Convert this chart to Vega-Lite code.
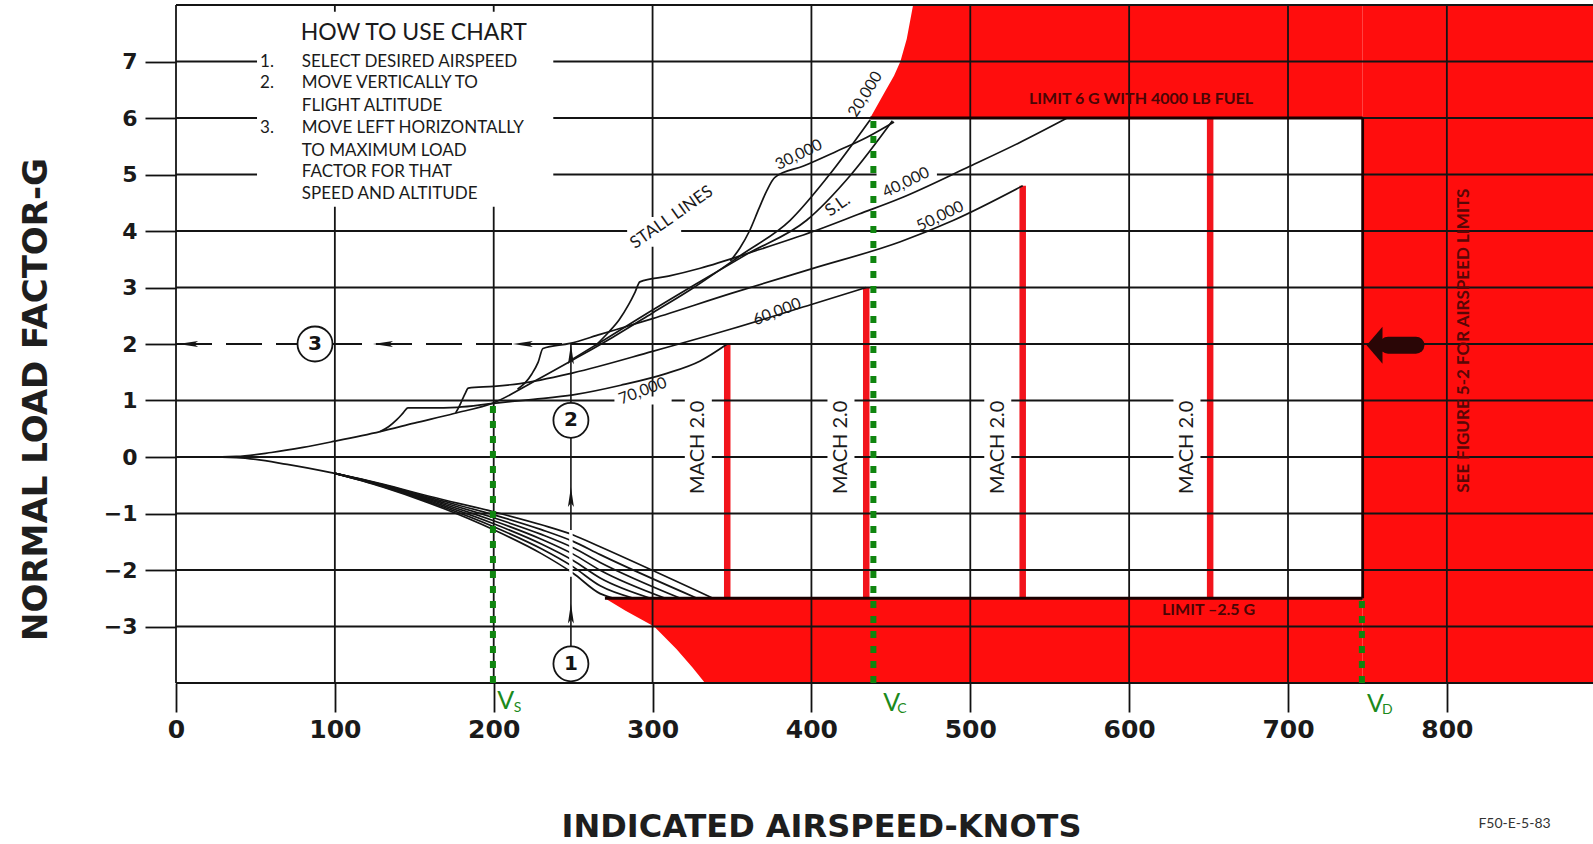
{
  "$schema": "https://vega.github.io/schema/vega-lite/v6.json",
  "width": 1417,
  "height": 678,
  "autosize": {"type": "none"},
  "padding": {"left": 176, "top": 5, "right": 0, "bottom": 161},
  "background": "#ffffff",
  "config": {"view": {"stroke": null}, "axis": {"labelFlush": false, "labelOverlap": false}},
  "datasets": {
    "grid": [
      {"x": 0, "x2": 892, "y": -4, "y2": -4},
      {"x": 0, "x2": 892, "y": -3, "y2": -3},
      {"x": 0, "x2": 892, "y": -2, "y2": -2},
      {"x": 0, "x2": 892, "y": -1, "y2": -1},
      {"x": 0, "x2": 892, "y": 0, "y2": 0},
      {"x": 0, "x2": 892, "y": 1, "y2": 1},
      {"x": 248.6, "x2": 892, "y": 2, "y2": 2},
      {"x": 0, "x2": 892, "y": 3, "y2": 3},
      {"x": 0, "x2": 892, "y": 4, "y2": 4},
      {"x": 0, "x2": 892, "y": 5, "y2": 5},
      {"x": 0, "x2": 892, "y": 6, "y2": 6},
      {"x": 0, "x2": 892, "y": 7, "y2": 7},
      {"x": 0, "x2": 892, "y": 8, "y2": 8},
      {"x": 0, "x2": 0, "y": -4, "y2": 8},
      {"x": 100, "x2": 100, "y": -4, "y2": 8},
      {"x": 200, "x2": 200, "y": -4, "y2": 8},
      {"x": 300, "x2": 300, "y": -4, "y2": 8},
      {"x": 400, "x2": 400, "y": -4, "y2": 8},
      {"x": 500, "x2": 500, "y": -4, "y2": 8},
      {"x": 600, "x2": 600, "y": -4, "y2": 8},
      {"x": 700, "x2": 700, "y": -4, "y2": 8},
      {"x": 800, "x2": 800, "y": -4, "y2": 8}
    ],
    "patches": [
      {"x": 51, "x2": 237.5, "y": 4.43, "y2": 7.88},
      {"x": 284, "x2": 318, "y": 3.72, "y2": 4.25},
      {"x": 276, "x2": 312, "y": 0.93, "y2": 1.07},
      {"x": 441, "x2": 479, "y": 4.93, "y2": 5.07},
      {"x": 320.3, "x2": 337.3, "y": -0.7, "y2": 1.06},
      {"x": 410.1, "x2": 427.1, "y": -0.7, "y2": 1.06},
      {"x": 508.8, "x2": 525.8, "y": -0.7, "y2": 1.06},
      {"x": 627.9, "x2": 644.9, "y": -0.7, "y2": 1.06}
    ],
    "patch2": [
      {"x": 247.5, "x2": 249.7, "y": -2.12, "y2": -1.29}
    ],
    "redU": [
      {"x": 437, "y": 6, "y2": 6},
      {"x": 446, "y": 6, "y2": 6.45},
      {"x": 452, "y": 6, "y2": 6.75},
      {"x": 456, "y": 6, "y2": 7.0},
      {"x": 460, "y": 6, "y2": 7.4},
      {"x": 464, "y": 6, "y2": 8},
      {"x": 747, "y": 6, "y2": 8}
    ],
    "redL": [
      {"x": 270, "y": -2.5, "y2": -2.5},
      {"x": 283, "y": -2.72, "y2": -2.5},
      {"x": 301, "y": -3.0, "y2": -2.5},
      {"x": 315, "y": -3.4, "y2": -2.5},
      {"x": 325, "y": -3.72, "y2": -2.5},
      {"x": 333, "y": -4, "y2": -2.5},
      {"x": 747, "y": -4, "y2": -2.5}
    ],
    "redR": [
      {"x": 747, "x2": 892, "y": -4, "y2": 8}
    ],
    "mach": [
      {"x": 347, "y": -2.5, "y2": 2.0},
      {"x": 434.5, "y": -2.5, "y2": 3.0},
      {"x": 533, "y": -2.5, "y2": 4.8},
      {"x": 651, "y": -2.5, "y2": 6.0}
    ],
    "green": [
      {"x": 199.5, "y": -4, "y2": 1.0},
      {"x": 439, "y": -4, "y2": 5.95},
      {"x": 746.5, "y": -4, "y2": -2.5}
    ],
    "outline": [
      {"x": 437, "x2": 747, "y": 6, "y2": 6},
      {"x": 747, "x2": 747, "y": -2.5, "y2": 6},
      {"x": 270, "x2": 747, "y": -2.5, "y2": -2.5}
    ],
    "curves": [
      {"id": "t", "i": 0, "x": 0, "y": 0},
      {"id": "t", "i": 1, "x": 20, "y": 0},
      {"id": "t", "i": 2, "x": 38, "y": 0.01},
      {"id": "t", "i": 3, "x": 60, "y": 0.08},
      {"id": "t", "i": 4, "x": 80, "y": 0.17},
      {"id": "t", "i": 5, "x": 100, "y": 0.28},
      {"id": "t", "i": 6, "x": 128.5, "y": 0.45},
      {"id": "t", "i": 7, "x": 150, "y": 0.6},
      {"id": "t", "i": 8, "x": 175, "y": 0.77},
      {"id": "t", "i": 9, "x": 200, "y": 0.96},
      {"id": "t", "i": 10, "x": 225, "y": 1.33},
      {"id": "t", "i": 11, "x": 250, "y": 1.72},
      {"id": "t", "i": 12, "x": 275, "y": 2.12},
      {"id": "t", "i": 13, "x": 300, "y": 2.55},
      {"id": "t", "i": 14, "x": 326, "y": 3.0},
      {"id": "t", "i": 15, "x": 356, "y": 3.58},
      {"id": "t", "i": 16, "x": 386.6, "y": 4.19},
      {"id": "t", "i": 17, "x": 410, "y": 4.95},
      {"id": "t", "i": 18, "x": 437, "y": 5.97},
      {"id": "sl", "i": 0, "x": 250, "y": 1.74},
      {"id": "sl", "i": 1, "x": 270, "y": 2.08},
      {"id": "sl", "i": 2, "x": 290, "y": 2.43},
      {"id": "sl", "i": 3, "x": 326, "y": 3.04},
      {"id": "sl", "i": 4, "x": 360, "y": 3.6},
      {"id": "sl", "i": 5, "x": 397, "y": 4.19},
      {"id": "sl", "i": 6, "x": 425, "y": 5.0},
      {"id": "sl", "i": 7, "x": 451, "y": 5.95},
      {"id": "a30", "i": 0, "x": 349, "y": 3.47},
      {"id": "a30", "i": 1, "x": 355, "y": 3.7},
      {"id": "a30", "i": 2, "x": 361, "y": 4.0},
      {"id": "a30", "i": 3, "x": 367, "y": 4.4},
      {"id": "a30", "i": 4, "x": 372, "y": 4.72},
      {"id": "a30", "i": 5, "x": 377, "y": 4.95},
      {"id": "a30", "i": 6, "x": 395, "y": 5.15},
      {"id": "a30", "i": 7, "x": 415, "y": 5.4},
      {"id": "a30", "i": 8, "x": 435, "y": 5.66},
      {"id": "a30", "i": 9, "x": 452, "y": 5.93},
      {"id": "a40", "i": 0, "x": 264, "y": 1.97},
      {"id": "a40", "i": 1, "x": 272, "y": 2.2},
      {"id": "a40", "i": 2, "x": 279, "y": 2.43},
      {"id": "a40", "i": 3, "x": 285, "y": 2.7},
      {"id": "a40", "i": 4, "x": 289, "y": 2.92},
      {"id": "a40", "i": 5, "x": 292, "y": 3.1},
      {"id": "a40", "i": 6, "x": 310, "y": 3.2},
      {"id": "a40", "i": 7, "x": 330, "y": 3.34},
      {"id": "a40", "i": 8, "x": 365, "y": 3.65},
      {"id": "a40", "i": 9, "x": 401, "y": 3.99},
      {"id": "a40", "i": 10, "x": 430, "y": 4.3},
      {"id": "a40", "i": 11, "x": 456, "y": 4.58},
      {"id": "a40", "i": 12, "x": 500, "y": 5.15},
      {"id": "a40", "i": 13, "x": 530, "y": 5.55},
      {"id": "a40", "i": 14, "x": 561, "y": 6.0},
      {"id": "a50", "i": 0, "x": 215, "y": 1.2},
      {"id": "a50", "i": 1, "x": 220, "y": 1.32},
      {"id": "a50", "i": 2, "x": 224, "y": 1.47},
      {"id": "a50", "i": 3, "x": 228, "y": 1.68},
      {"id": "a50", "i": 4, "x": 231, "y": 1.92},
      {"id": "a50", "i": 5, "x": 248, "y": 2.01},
      {"id": "a50", "i": 6, "x": 267, "y": 2.17},
      {"id": "a50", "i": 7, "x": 300, "y": 2.45},
      {"id": "a50", "i": 8, "x": 350, "y": 2.9},
      {"id": "a50", "i": 9, "x": 400, "y": 3.33},
      {"id": "a50", "i": 10, "x": 456, "y": 3.81},
      {"id": "a50", "i": 11, "x": 489.5, "y": 4.19},
      {"id": "a50", "i": 12, "x": 533, "y": 4.8},
      {"id": "a60", "i": 0, "x": 176, "y": 0.78},
      {"id": "a60", "i": 1, "x": 178, "y": 0.88},
      {"id": "a60", "i": 2, "x": 180, "y": 1.0},
      {"id": "a60", "i": 3, "x": 182, "y": 1.12},
      {"id": "a60", "i": 4, "x": 184, "y": 1.22},
      {"id": "a60", "i": 5, "x": 200, "y": 1.25},
      {"id": "a60", "i": 6, "x": 216.6, "y": 1.3},
      {"id": "a60", "i": 7, "x": 250, "y": 1.49},
      {"id": "a60", "i": 8, "x": 300, "y": 1.87},
      {"id": "a60", "i": 9, "x": 350, "y": 2.27},
      {"id": "a60", "i": 10, "x": 400, "y": 2.7},
      {"id": "a60", "i": 11, "x": 434.5, "y": 3.0},
      {"id": "a70", "i": 0, "x": 128.5, "y": 0.45},
      {"id": "a70", "i": 1, "x": 134, "y": 0.54},
      {"id": "a70", "i": 2, "x": 139, "y": 0.66},
      {"id": "a70", "i": 3, "x": 143, "y": 0.78},
      {"id": "a70", "i": 4, "x": 146, "y": 0.87},
      {"id": "a70", "i": 5, "x": 160, "y": 0.87},
      {"id": "a70", "i": 6, "x": 177, "y": 0.88},
      {"id": "a70", "i": 7, "x": 200, "y": 0.95},
      {"id": "a70", "i": 8, "x": 225, "y": 1.02},
      {"id": "a70", "i": 9, "x": 250, "y": 1.1},
      {"id": "a70", "i": 10, "x": 280, "y": 1.27},
      {"id": "a70", "i": 11, "x": 309, "y": 1.48},
      {"id": "a70", "i": 12, "x": 330, "y": 1.7},
      {"id": "a70", "i": 13, "x": 347, "y": 2.0},
      {"id": "b0", "i": 0, "x": 0, "y": 0},
      {"id": "b0", "i": 1, "x": 20, "y": 0},
      {"id": "b0", "i": 2, "x": 38, "y": -0.01},
      {"id": "b0", "i": 3, "x": 70, "y": -0.13},
      {"id": "b0", "i": 4, "x": 100, "y": -0.29},
      {"id": "b0", "i": 5, "x": 130, "y": -0.48},
      {"id": "b0", "i": 6, "x": 160, "y": -0.7},
      {"id": "b0", "i": 7, "x": 200, "y": -0.97},
      {"id": "b0", "i": 8, "x": 230, "y": -1.2},
      {"id": "b0", "i": 9, "x": 250, "y": -1.38},
      {"id": "b0", "i": 10, "x": 267, "y": -1.59},
      {"id": "b0", "i": 11, "x": 338, "y": -2.5},
      {"id": "b1", "i": 0, "x": 100, "y": -0.29},
      {"id": "b1", "i": 1, "x": 130, "y": -0.488},
      {"id": "b1", "i": 2, "x": 160, "y": -0.72},
      {"id": "b1", "i": 3, "x": 200, "y": -1.023},
      {"id": "b1", "i": 4, "x": 230, "y": -1.285},
      {"id": "b1", "i": 5, "x": 250, "y": -1.493},
      {"id": "b1", "i": 6, "x": 267, "y": -1.728},
      {"id": "b1", "i": 7, "x": 328, "y": -2.5},
      {"id": "b2", "i": 0, "x": 100, "y": -0.29},
      {"id": "b2", "i": 1, "x": 130, "y": -0.496},
      {"id": "b2", "i": 2, "x": 160, "y": -0.74},
      {"id": "b2", "i": 3, "x": 200, "y": -1.076},
      {"id": "b2", "i": 4, "x": 230, "y": -1.37},
      {"id": "b2", "i": 5, "x": 250, "y": -1.606},
      {"id": "b2", "i": 6, "x": 267, "y": -1.866},
      {"id": "b2", "i": 7, "x": 317.5, "y": -2.5},
      {"id": "b3", "i": 0, "x": 100, "y": -0.29},
      {"id": "b3", "i": 1, "x": 130, "y": -0.504},
      {"id": "b3", "i": 2, "x": 160, "y": -0.76},
      {"id": "b3", "i": 3, "x": 200, "y": -1.129},
      {"id": "b3", "i": 4, "x": 230, "y": -1.455},
      {"id": "b3", "i": 5, "x": 250, "y": -1.719},
      {"id": "b3", "i": 6, "x": 267, "y": -2.004},
      {"id": "b3", "i": 7, "x": 308, "y": -2.5},
      {"id": "b4", "i": 0, "x": 100, "y": -0.29},
      {"id": "b4", "i": 1, "x": 130, "y": -0.512},
      {"id": "b4", "i": 2, "x": 160, "y": -0.78},
      {"id": "b4", "i": 3, "x": 200, "y": -1.182},
      {"id": "b4", "i": 4, "x": 230, "y": -1.54},
      {"id": "b4", "i": 5, "x": 250, "y": -1.832},
      {"id": "b4", "i": 6, "x": 267, "y": -2.142},
      {"id": "b4", "i": 7, "x": 298.6, "y": -2.5},
      {"id": "b5", "i": 0, "x": 100, "y": -0.29},
      {"id": "b5", "i": 1, "x": 130, "y": -0.52},
      {"id": "b5", "i": 2, "x": 160, "y": -0.8},
      {"id": "b5", "i": 3, "x": 200, "y": -1.235},
      {"id": "b5", "i": 4, "x": 230, "y": -1.625},
      {"id": "b5", "i": 5, "x": 250, "y": -1.945},
      {"id": "b5", "i": 6, "x": 267, "y": -2.28},
      {"id": "b5", "i": 7, "x": 288, "y": -2.5},
      {"id": "b6", "i": 0, "x": 100, "y": -0.29},
      {"id": "b6", "i": 1, "x": 130, "y": -0.528},
      {"id": "b6", "i": 2, "x": 160, "y": -0.82},
      {"id": "b6", "i": 3, "x": 200, "y": -1.288},
      {"id": "b6", "i": 4, "x": 230, "y": -1.71},
      {"id": "b6", "i": 5, "x": 250, "y": -2.058},
      {"id": "b6", "i": 6, "x": 267, "y": -2.418},
      {"id": "b6", "i": 7, "x": 275.6, "y": -2.5}
    ],
    "arrowV": [
      {"x": 248.6, "x2": 248.6, "y": -3.35, "y2": -2.12},
      {"x": 248.6, "x2": 248.6, "y": -1.29, "y2": 0.35},
      {"x": 248.6, "x2": 248.6, "y": 0.97, "y2": 2.0}
    ],
    "arrowDash": [
      {"x": 0, "x2": 248.6, "y": 2, "y2": 2}
    ],
    "arrowUp": [
      {"x": 248.6, "y": -2.77},
      {"x": 248.6, "y": -0.71},
      {"x": 248.6, "y": 1.82}
    ],
    "arrowLeft": [
      {"x": 218.3, "y": 2},
      {"x": 130.3, "y": 2},
      {"x": 7.6, "y": 2}
    ],
    "circles": [
      {"x": 248.6, "y": -3.66, "t": "1"},
      {"x": 248.6, "y": 0.65, "t": "2"},
      {"x": 87.5, "y": 2.0, "t": "3"}
    ],
    "bigShaft": [
      {"x": 763, "x2": 780.5, "y": 1.98, "y2": 1.98}
    ],
    "bigHead": [
      {"x": 754.5, "y": 1.98}
    ],
    "howTitle": [
      {"x": 78.5, "y": 7.5, "t": "HOW TO USE CHART"}
    ],
    "howLines": [
      {"x": 79.2, "y": 6.996, "t": "SELECT DESIRED AIRSPEED"},
      {"x": 79.2, "y": 6.614, "t": "MOVE VERTICALLY TO"},
      {"x": 79.2, "y": 6.212, "t": "FLIGHT ALTITUDE"},
      {"x": 79.2, "y": 5.817, "t": "MOVE LEFT HORIZONTALLY"},
      {"x": 79.2, "y": 5.421, "t": "TO MAXIMUM LOAD"},
      {"x": 79.2, "y": 5.04, "t": "FACTOR FOR THAT"},
      {"x": 79.2, "y": 4.65, "t": "SPEED AND ALTITUDE"},
      {"x": 52.9, "y": 6.996, "t": "1."},
      {"x": 52.9, "y": 6.614, "t": "2."},
      {"x": 52.9, "y": 5.817, "t": "3."}
    ],
    "lab58": [
      {"x": 433.9, "y": 6.42, "t": "20,000"}
    ],
    "lab35": [
      {"x": 312, "y": 4.24, "t": "STALL LINES"},
      {"x": 416.6, "y": 4.45, "t": "S.L."}
    ],
    "lab26": [
      {"x": 392, "y": 5.35, "t": "30,000"},
      {"x": 459.5, "y": 4.86, "t": "40,000"},
      {"x": 481, "y": 4.26, "t": "50,000"}
    ],
    "lab21": [
      {"x": 378.3, "y": 2.57, "t": "60,000"},
      {"x": 293.8, "y": 1.17, "t": "70,000"}
    ],
    "labMach": [
      {"x": 328.8, "y": 0.17, "t": "MACH 2.0"},
      {"x": 418.6, "y": 0.17, "t": "MACH 2.0"},
      {"x": 517.3, "y": 0.17, "t": "MACH 2.0"},
      {"x": 636.4, "y": 0.17, "t": "MACH 2.0"}
    ],
    "labLimit": [
      {"x": 607.5, "y": 6.33, "t": "LIMIT 6 G WITH 4000 LB  FUEL"},
      {"x": 650, "y": -2.71, "t": "LIMIT –2.5 G"}
    ],
    "labSee": [
      {"x": 811, "y": 2.06, "t": "SEE FIGURE 5-2 FOR AIRSPEED LIMITS"}
    ],
    "labV": [
      {"x": 207.5, "y": -4.32, "t": "V"},
      {"x": 450.6, "y": -4.35, "t": "V"},
      {"x": 755, "y": -4.37, "t": "V"}
    ],
    "labSub": [
      {"x": 215, "y": -4.45, "t": "S"},
      {"x": 457, "y": -4.46, "t": "C"},
      {"x": 762.5, "y": -4.47, "t": "D"}
    ],
    "labFoot": [
      {"x": 842.6, "y": -6.5, "t": "F50-E-5-83"}
    ]
  },
  "encoding": {
    "x": {
      "field": "x", "type": "quantitative",
      "scale": {"domain": [0, 892], "nice": false, "zero": false},
      "axis": {
        "values": [0, 100, 200, 300, 400, 500, 600, 700, 800], "format": "d",
        "grid": false, "domain": false, "ticks": true, "tickSize": 29, "tickWidth": 1.8, "tickColor": "#111111",
        "labelFont": "DejaVu Sans", "labelFontWeight": "bold", "labelFontSize": 25, "labelColor": "#1a1a1a", "labelPadding": 5,
        "title": "INDICATED AIRSPEED-KNOTS", "titleFont": "DejaVu Sans", "titleFontWeight": "bold", "titleFontSize": 32,
        "titleColor": "#1e1e1e", "titleX": 645, "titleY": 143, "titleAlign": "center", "titleBaseline": "middle", "titleAngle": 0
      }
    },
    "y": {
      "field": "y", "type": "quantitative",
      "scale": {"domain": [-4, 8], "nice": false, "zero": false},
      "axis": {
        "values": [-3, -2, -1, 0, 1, 2, 3, 4, 5, 6, 7], "format": "d",
        "grid": false, "domain": false, "ticks": true, "tickSize": 31, "tickWidth": 1.8, "tickColor": "#111111",
        "labelFont": "DejaVu Sans", "labelFontWeight": "bold", "labelFontSize": 22, "labelColor": "#1a1a1a", "labelPadding": 8,
        "title": "NORMAL LOAD FACTOR-G", "titleFont": "DejaVu Sans", "titleFontWeight": "bold", "titleFontSize": 34,
        "titleColor": "#1e1e1e", "titleX": -140, "titleY": 394, "titleAngle": 270, "titleAlign": "center", "titleBaseline": "middle"
      }
    }
  },
  "layer": [
    {"data": {"name": "redU"}, "mark": {"type": "area", "color": "#ff0d0d", "opacity": 1}, "encoding": {"y2": {"field": "y2"}}},
    {"data": {"name": "redL"}, "mark": {"type": "area", "color": "#ff0d0d", "opacity": 1}, "encoding": {"y2": {"field": "y2"}}},
    {"data": {"name": "redR"}, "mark": {"type": "rect", "color": "#ff0d0d", "opacity": 1}, "encoding": {"x2": {"field": "x2"}, "y2": {"field": "y2"}}},
    {"data": {"name": "mach"}, "mark": {"type": "rule", "color": "#f2141c", "strokeWidth": 6.5}, "encoding": {"y2": {"field": "y2"}}},
    {"data": {"name": "grid"}, "mark": {"type": "rule", "color": "#141414", "strokeWidth": 1.8}, "encoding": {"x2": {"field": "x2"}, "y2": {"field": "y2"}}},
    {"data": {"name": "patches"}, "mark": {"type": "rect", "color": "#ffffff", "opacity": 1}, "encoding": {"x2": {"field": "x2"}, "y2": {"field": "y2"}}},
    {"data": {"name": "curves"}, "mark": {"type": "line", "color": "#141414", "strokeWidth": 1.7, "interpolate": "monotone"}, "encoding": {"detail": {"field": "id"}, "order": {"field": "i", "type": "quantitative"}}},
    {"data": {"name": "patch2"}, "mark": {"type": "rect", "color": "#ffffff", "opacity": 1}, "encoding": {"x2": {"field": "x2"}, "y2": {"field": "y2"}}},
    {"data": {"name": "outline"}, "mark": {"type": "rule", "color": "#1a0000", "strokeWidth": 2.8}, "encoding": {"x2": {"field": "x2"}, "y2": {"field": "y2"}}},
    {"data": {"name": "green"}, "mark": {"type": "rule", "color": "#0f850f", "strokeWidth": 6, "strokeDash": [7, 8]}, "encoding": {"y2": {"field": "y2"}}},
    {"data": {"name": "arrowDash"}, "mark": {"type": "rule", "color": "#141414", "strokeWidth": 1.8, "strokeDash": [36, 14]}, "encoding": {"x2": {"field": "x2"}, "y2": {"field": "y2"}}},
    {"data": {"name": "arrowV"}, "mark": {"type": "rule", "color": "#141414", "strokeWidth": 1.6}, "encoding": {"x2": {"field": "x2"}, "y2": {"field": "y2"}}},
    {"data": {"name": "arrowUp"}, "mark": {"type": "point", "shape": "M0,-1L0.3,1L0,0.6L-0.3,1Z", "filled": true, "color": "#141414", "opacity": 1, "size": 400}},
    {"data": {"name": "arrowLeft"}, "mark": {"type": "point", "shape": "M-1,0L1,-0.3L0.6,0L1,0.3Z", "filled": true, "color": "#141414", "opacity": 1, "size": 400}},
    {"data": {"name": "circles"}, "mark": {"type": "point", "shape": "circle", "filled": true, "fill": "#ffffff", "stroke": "#141414", "strokeWidth": 1.8, "opacity": 1, "size": 1225}},
    {"data": {"name": "circles"}, "mark": {"type": "text", "font": "DejaVu Sans", "fontSize": 20, "fontWeight": "bold", "color": "#141414", "align": "center", "baseline": "middle"}, "encoding": {"text": {"field": "t"}}},
    {"data": {"name": "bigShaft"}, "mark": {"type": "rule", "color": "#2a0606", "strokeWidth": 17, "strokeCap": "round"}, "encoding": {"x2": {"field": "x2"}, "y2": {"field": "y2"}}},
    {"data": {"name": "bigHead"}, "mark": {"type": "point", "shape": "M-0.43,0L0.43,-1L0.43,1Z", "filled": true, "color": "#2a0606", "opacity": 1, "size": 1369}},
    {"data": {"name": "howTitle"}, "mark": {"type": "text", "font": "Lato", "fontSize": 23, "color": "#1a1a1a", "align": "left", "baseline": "middle"}, "encoding": {"text": {"field": "t"}}},
    {"data": {"name": "howLines"}, "mark": {"type": "text", "font": "Lato", "fontSize": 17, "color": "#1a1a1a", "align": "left", "baseline": "middle"}, "encoding": {"text": {"field": "t"}}},
    {"data": {"name": "lab58"}, "mark": {"type": "text", "font": "Lato", "fontSize": 16, "color": "#1a1a1a", "align": "center", "baseline": "middle", "angle": 302}, "encoding": {"text": {"field": "t"}}},
    {"data": {"name": "lab35"}, "mark": {"type": "text", "font": "Lato", "fontSize": 17, "color": "#1a1a1a", "align": "center", "baseline": "middle", "angle": 325}, "encoding": {"text": {"field": "t"}}},
    {"data": {"name": "lab26"}, "mark": {"type": "text", "font": "Lato", "fontSize": 16, "color": "#1a1a1a", "align": "center", "baseline": "middle", "angle": 334}, "encoding": {"text": {"field": "t"}}},
    {"data": {"name": "lab21"}, "mark": {"type": "text", "font": "Lato", "fontSize": 16, "color": "#1a1a1a", "align": "center", "baseline": "middle", "angle": 339}, "encoding": {"text": {"field": "t"}}},
    {"data": {"name": "labMach"}, "mark": {"type": "text", "font": "Lato", "fontSize": 20, "color": "#1a1a1a", "align": "center", "baseline": "middle", "angle": 270}, "encoding": {"text": {"field": "t"}}},
    {"data": {"name": "labLimit"}, "mark": {"type": "text", "font": "Lato", "fontSize": 16, "fontWeight": "bold", "color": "#4a0505", "align": "center", "baseline": "middle"}, "encoding": {"text": {"field": "t"}}},
    {"data": {"name": "labSee"}, "mark": {"type": "text", "font": "Lato", "fontSize": 17, "fontWeight": "bold", "color": "#5a0606", "align": "center", "baseline": "middle", "angle": 270}, "encoding": {"text": {"field": "t"}}},
    {"data": {"name": "labV"}, "mark": {"type": "text", "font": "Lato", "fontSize": 25, "color": "#1b8a1b", "align": "center", "baseline": "middle"}, "encoding": {"text": {"field": "t"}}},
    {"data": {"name": "labSub"}, "mark": {"type": "text", "font": "Lato", "fontSize": 14, "color": "#1b8a1b", "align": "center", "baseline": "middle"}, "encoding": {"text": {"field": "t"}}},
    {"data": {"name": "labFoot"}, "mark": {"type": "text", "font": "Lato", "fontSize": 14, "color": "#333333", "align": "center", "baseline": "middle"}, "encoding": {"text": {"field": "t"}}}
  ]
}
